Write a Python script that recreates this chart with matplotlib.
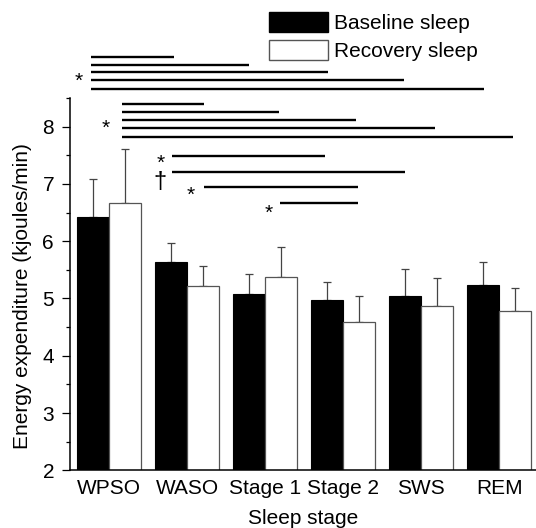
import matplotlib
matplotlib.use('Agg')
import matplotlib.pyplot as plt
from matplotlib.patches import Patch
from matplotlib.ticker import MultipleLocator
from matplotlib.transforms import offset_copy
import numpy as np

plt.rcParams['font.family'] = ['Liberation Sans', 'DejaVu Sans']

stages = ['WPSO', 'WASO', 'Stage 1', 'Stage 2', 'SWS', 'REM']
baseline = [6.43, 5.63, 5.07, 4.97, 5.04, 5.24]
baseline_err = [0.65, 0.34, 0.36, 0.31, 0.47, 0.40]
recovery = [6.67, 5.21, 5.37, 4.59, 4.87, 4.78]
recovery_err = [0.94, 0.36, 0.52, 0.45, 0.49, 0.41]

# significance comparison lines (x in category units, y in kJ/min)
sig_x0 = [-0.235, -0.235, -0.235, -0.235, -0.235,
          0.16, 0.16, 0.16, 0.16, 0.16,
          0.81, 0.81, 1.22, 2.19]
sig_x1 = [0.83, 1.795, 2.81, 3.78, 4.80,
          1.22, 2.18, 3.17, 4.17, 5.18,
          2.77, 3.79, 3.19, 3.19]
sig_y = [9.21, 9.08, 8.95, 8.81, 8.66,
         8.39, 8.26, 8.11, 7.98, 7.82,
         7.49, 7.21, 6.95, 6.66]
sym_text = ['*', '*', '*', '\u2020', '*', '*']
sym_x = [-0.385, -0.042, 0.66, 0.65, 1.047, 2.04]
sym_y = [8.91, 8.08, 7.47, 7.045, 6.92, 6.61]

FS = 15
fig = plt.figure(figsize=(5.36, 5.28), dpi=100)
ax = fig.add_axes([70 / 536, (528 - 470.3) / 528, 466 / 536, 372.3 / 528])

x = np.arange(len(stages))
w = 0.41
ax.bar(x - w / 2, baseline, w, color='black', edgecolor='black', linewidth=0.8,
       zorder=2)
ax.bar(x + w / 2, recovery, w, color='white', edgecolor='#555555', linewidth=0.9,
       zorder=2)
ax.errorbar(x - w / 2, baseline, yerr=[np.zeros(6), baseline_err], fmt='none',
            ecolor='#444444', elinewidth=0.9, capsize=2.9, capthick=0.9, zorder=1)
ax.errorbar(x + w / 2, recovery, yerr=[np.zeros(6), recovery_err], fmt='none',
            ecolor='#444444', elinewidth=0.9, capsize=2.9, capthick=0.9, zorder=1)

for x0, x1, y in zip(sig_x0, sig_x1, sig_y):
    ax.plot([x0, x1], [y, y], color='black', lw=1.7, clip_on=False,
            solid_capstyle='butt')

for t, sx, sy in zip(sym_text, sym_x, sym_y):
    fs = FS if t == '*' else 17
    off = -0.58 * fs if t == '*' else -0.29 * fs
    tr = offset_copy(ax.transData, fig=fig, x=0, y=off, units='points')
    ax.text(sx, sy, t, transform=tr, ha='center', va='baseline', fontsize=fs,
            clip_on=False)

ax.set_xlim(-0.5, 5.47)
ax.set_ylim(2, 8.5)
ax.yaxis.set_major_locator(MultipleLocator(1))
ax.yaxis.set_minor_locator(MultipleLocator(0.5))
ax.set_xticks(x)
ax.set_xticklabels(stages)
ax.tick_params(axis='x', length=0, pad=6.5, labelsize=FS)
ax.tick_params(axis='y', which='major', length=6, width=0.9, pad=5.5, labelsize=FS)
ax.tick_params(axis='y', which='minor', length=3.1, width=0.9)
for s in ['top', 'right']:
    ax.spines[s].set_visible(False)
for s in ['left', 'bottom']:
    ax.spines[s].set_linewidth(1.1)

ax.set_ylabel('Energy expenditure (kjoules/min)', fontsize=FS)
ax.yaxis.set_label_coords(-0.081, 0.469)
ax.set_xlabel('Sleep stage', fontsize=FS)
ax.xaxis.set_label_coords(0.5, -0.105)
ax.xaxis.label.set_va('top')

handles = [Patch(facecolor='black', edgecolor='black', label='Baseline sleep'),
           Patch(facecolor='white', edgecolor='#555555', label='Recovery sleep')]
fig.legend(handles=handles, loc='upper left',
           bbox_to_anchor=(269.3 / 536, 1 - 12.3 / 528), frameon=False,
           fontsize=FS, borderpad=0, borderaxespad=0, handlelength=2.84,
           handleheight=1.05, handletextpad=0.28, labelspacing=0.35)

fig.savefig('out.png', dpi=100)
